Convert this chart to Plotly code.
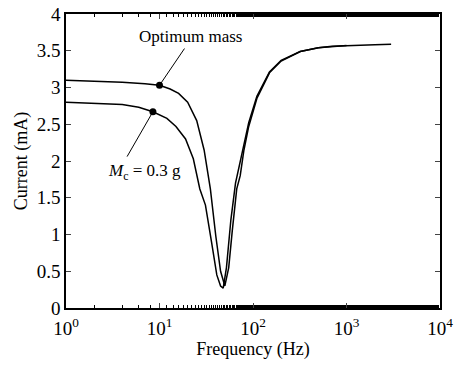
import plotly.graph_objects as go

# Optimum mass curve
freq_opt = [1, 2, 4, 7, 10, 13, 16, 20, 25, 30, 35, 40, 45, 50, 55, 60, 67, 73, 80, 90,
            110, 150, 200, 320, 500, 700, 1000, 2000, 3000]
cur_opt = [3.10, 3.09, 3.07, 3.05, 3.03, 2.98, 2.92, 2.80, 2.55, 2.15, 1.62, 0.98, 0.50, 0.30,
           0.55, 1.05, 1.62, 1.80, 2.15, 2.47, 2.85, 3.20, 3.36, 3.49, 3.54, 3.56, 3.57, 3.58, 3.59]

# Mc = 0.3 g curve
freq_mc = [1, 2, 4, 6, 8.5, 12, 15, 19, 23, 27, 31, 36, 41, 45, 48, 52, 58, 65, 72, 80, 90,
           110, 150, 200, 320, 500, 1000]
cur_mc = [2.80, 2.79, 2.77, 2.73, 2.67, 2.58, 2.47, 2.30, 2.03, 1.62, 1.40, 0.90, 0.45, 0.30,
          0.27, 0.55, 1.20, 1.70, 1.95, 2.25, 2.52, 2.88, 3.21, 3.37, 3.49, 3.54, 3.57]

marker_f = [10, 8.5]
marker_i = [3.03, 2.67]

# leader line end points (marker -> label)
lead_opt_f = [10, 18.5]
lead_opt_i = [3.03, 3.53]
lead_mc_f = [8.5, 4.5]
lead_mc_i = [2.67, 2.06]

x_tickvals = [1, 10, 100, 1000, 10000]
x_ticktext = ["10<sup>0</sup>", "10<sup>1</sup>", "10<sup>2</sup>", "10<sup>3</sup>", "10<sup>4</sup>"]
y_tickvals = [0, 0.5, 1, 1.5, 2, 2.5, 3, 3.5, 4]
y_ticktext = ["0", "0.5", "1", "1.5", "2", "2.5", "3", "3.5", "4"]

font = "'Liberation Serif', 'Times New Roman', serif"

fig = go.Figure()
fig.add_trace(go.Scatter(x=freq_opt, y=cur_opt, mode="lines",
                         line=dict(color="black", width=1.5), showlegend=False))
fig.add_trace(go.Scatter(x=freq_mc, y=cur_mc, mode="lines",
                         line=dict(color="black", width=1.5), showlegend=False))
fig.add_trace(go.Scatter(x=lead_opt_f, y=lead_opt_i, mode="lines",
                         line=dict(color="black", width=1), showlegend=False))
fig.add_trace(go.Scatter(x=lead_mc_f, y=lead_mc_i, mode="lines",
                         line=dict(color="black", width=1), showlegend=False))
fig.add_trace(go.Scatter(x=marker_f, y=marker_i, mode="markers",
                         marker=dict(color="black", size=7, symbol="circle"), showlegend=False))

pw = 462 - 66 - 22
ph = 374 - 14 - 66


def px(x, y):
    return (x - 66) / pw, 1 - (y - 14) / ph


ox, oy = px(190, 37)
fig.add_annotation(x=ox, y=oy, xref="paper", yref="paper", text="Optimum mass",
                   xanchor="center", yanchor="middle",
                   showarrow=False, font=dict(family=font, size=17, color="black"))
mx, my = px(144, 172)
fig.add_annotation(x=mx, y=my, xref="paper", yref="paper",
                   text="<i>M</i><sub>c</sub> = 0.3 g", xanchor="center", yanchor="middle",
                   showarrow=False, font=dict(family=font, size=17, color="black"))

fig.update_layout(
    width=462, height=374,
    margin=dict(l=66, r=22, t=14, b=66),
    paper_bgcolor="white", plot_bgcolor="white",
    font=dict(family=font, size=19, color="black"),
    xaxis=dict(type="log", range=[0, 4], tickvals=x_tickvals, ticktext=x_ticktext,
               automargin=False,
               showgrid=False, zeroline=False, showline=True, linecolor="black",
               linewidth=1.5, mirror="ticks", ticks="inside", ticklen=5,
               ticklabelstandoff=2,
               minor=dict(ticks="inside", ticklen=3, tickcolor="black", showgrid=False),
               title=dict(text="Frequency (Hz)", font=dict(size=18), standoff=4)),
    yaxis=dict(range=[0, 4], tickvals=y_tickvals, ticktext=y_ticktext,
               automargin=False,
               showgrid=False, zeroline=False, showline=True, linecolor="black",
               linewidth=1.5, mirror="ticks", ticks="inside", ticklen=5,
               title=dict(text="Current (mA)", font=dict(size=18), standoff=4)),
)

fig.write_html("out.html")
